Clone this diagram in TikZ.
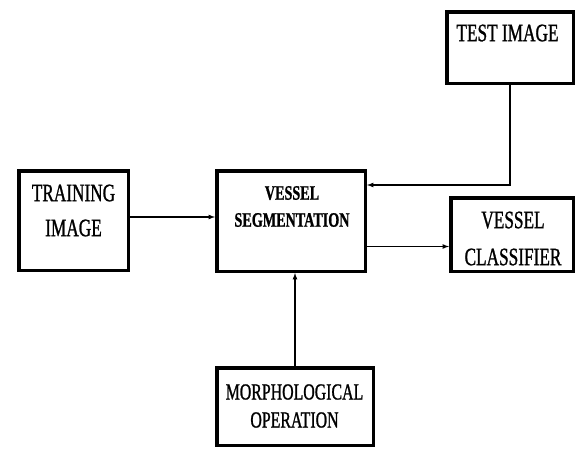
\documentclass[tikz,border=0pt]{standalone}
\usepackage{fontspec}
\newfontfamily\boxfont[FakeStretch=0.69,FakeBold=1]{Liberation Serif}
\usetikzlibrary{arrows}

\begin{document}
\begin{tikzpicture}[x=1pt,y=-1pt,
  box/.style={draw,line width=3.5pt,inner sep=0pt},
  txt/.style={align=center,inner sep=0pt,font=\boxfont\fontsize{25}{35}\selectfont},
  arr/.style={-latex,line width=1.2pt}]
  \useasboundingbox[fill=white] (0,0) rectangle (576,450);

  % boxes
  \node[box,minimum width=109.5pt,minimum height=99.5pt] (train) at (73.5,220.5) {};
  \node[box,minimum width=148.5pt,minimum height=100.5pt] (seg) at (291,221) {};
  \node[box,minimum width=126.5pt,minimum height=71.5pt] (test) at (510,47.5) {};
  \node[box,minimum width=122.5pt,minimum height=73.5pt] (cls) at (512,234.5) {};
  \node[box,minimum width=156.5pt,minimum height=77.5pt] (morph) at (295,406.5) {};

  % texts
  \node[txt] (traintxt) at (73.5,210.5) {TRAINING\\IMAGE};
  \node[txt,font=\boxfont\bfseries\fontsize{20.5}{27}\selectfont] (segtxt) at (292,206.5) {VESSEL\\SEGMENTATION};
  \node[txt] (testtxt) at (507.5,33) {TEST IMAGE};
  \node[txt,font=\boxfont\fontsize{25}{37}\selectfont] (clstxt) at (513,238.5) {VESSEL\\CLASSIFIER};
  \node[txt,font=\boxfont\fontsize{23}{28}\selectfont] (morphtxt) at (294.5,406) {MORPHOLOGICAL\\OPERATION};

  % connectors
  \draw[arr] ([yshift=3.5pt]train.east) -- ([yshift=3.5pt]train.east -| seg.west);
  \draw[arr] (test.south) |- ([yshift=36pt]seg.east);
  \draw[arr] ([yshift=-12pt]cls.west -| seg.east) -- ([yshift=-12pt]cls.west);
  \draw[arr] (morph.north) -- (morph.north |- seg.south);
\end{tikzpicture}
\end{document}
